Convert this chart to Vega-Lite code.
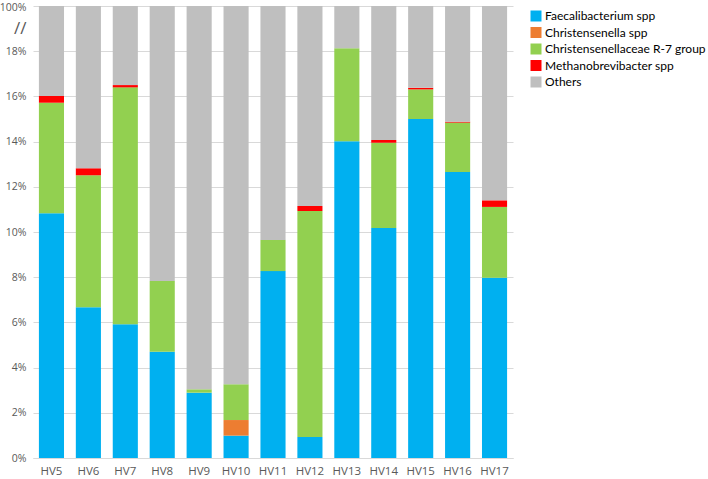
{
  "$schema": "https://vega.github.io/schema/vega-lite/v6.json",
  "width": 480,
  "height": 452,
  "autosize": {"type": "none"},
  "padding": {"left": 33, "top": 6, "right": 195, "bottom": 21},
  "config": {
    "font": "Open Sans",
    "view": {"stroke": null},
    "axis": {"labelFont": "Open Sans", "labelColor": "#595959", "labelFontSize": 11}
  },
  "data": {
    "values": [
      {"sample": "HV5", "taxon": "Faecalibacterium spp", "value": 0.1083},
      {"sample": "HV5", "taxon": "Christensenellaceae R-7 group", "value": 0.0489},
      {"sample": "HV5", "taxon": "Methanobrevibacter spp", "value": 0.0030},
      {"sample": "HV5", "taxon": "Others", "value": 0.8398},
      {"sample": "HV6", "taxon": "Faecalibacterium spp", "value": 0.0667},
      {"sample": "HV6", "taxon": "Christensenellaceae R-7 group", "value": 0.0584},
      {"sample": "HV6", "taxon": "Methanobrevibacter spp", "value": 0.0031},
      {"sample": "HV6", "taxon": "Others", "value": 0.8718},
      {"sample": "HV7", "taxon": "Faecalibacterium spp", "value": 0.0592},
      {"sample": "HV7", "taxon": "Christensenellaceae R-7 group", "value": 0.1048},
      {"sample": "HV7", "taxon": "Methanobrevibacter spp", "value": 0.0010},
      {"sample": "HV7", "taxon": "Others", "value": 0.8350},
      {"sample": "HV8", "taxon": "Faecalibacterium spp", "value": 0.0470},
      {"sample": "HV8", "taxon": "Christensenellaceae R-7 group", "value": 0.0313},
      {"sample": "HV8", "taxon": "Others", "value": 0.9217},
      {"sample": "HV9", "taxon": "Faecalibacterium spp", "value": 0.0289},
      {"sample": "HV9", "taxon": "Christensenellaceae R-7 group", "value": 0.0015},
      {"sample": "HV9", "taxon": "Others", "value": 0.9696},
      {"sample": "HV10", "taxon": "Faecalibacterium spp", "value": 0.0099},
      {"sample": "HV10", "taxon": "Christensenella spp", "value": 0.0069},
      {"sample": "HV10", "taxon": "Christensenellaceae R-7 group", "value": 0.0158},
      {"sample": "HV10", "taxon": "Others", "value": 0.9674},
      {"sample": "HV11", "taxon": "Faecalibacterium spp", "value": 0.0827},
      {"sample": "HV11", "taxon": "Christensenellaceae R-7 group", "value": 0.0138},
      {"sample": "HV11", "taxon": "Others", "value": 0.9035},
      {"sample": "HV12", "taxon": "Faecalibacterium spp", "value": 0.0093},
      {"sample": "HV12", "taxon": "Christensenellaceae R-7 group", "value": 0.1000},
      {"sample": "HV12", "taxon": "Methanobrevibacter spp", "value": 0.0022},
      {"sample": "HV12", "taxon": "Others", "value": 0.8885},
      {"sample": "HV13", "taxon": "Faecalibacterium spp", "value": 0.1401},
      {"sample": "HV13", "taxon": "Christensenellaceae R-7 group", "value": 0.0412},
      {"sample": "HV13", "taxon": "Others", "value": 0.8187},
      {"sample": "HV14", "taxon": "Faecalibacterium spp", "value": 0.1018},
      {"sample": "HV14", "taxon": "Christensenellaceae R-7 group", "value": 0.0377},
      {"sample": "HV14", "taxon": "Methanobrevibacter spp", "value": 0.0012},
      {"sample": "HV14", "taxon": "Others", "value": 0.8593},
      {"sample": "HV15", "taxon": "Faecalibacterium spp", "value": 0.1500},
      {"sample": "HV15", "taxon": "Christensenellaceae R-7 group", "value": 0.0131},
      {"sample": "HV15", "taxon": "Methanobrevibacter spp", "value": 0.0007},
      {"sample": "HV15", "taxon": "Others", "value": 0.8362},
      {"sample": "HV16", "taxon": "Faecalibacterium spp", "value": 0.1265},
      {"sample": "HV16", "taxon": "Christensenellaceae R-7 group", "value": 0.0219},
      {"sample": "HV16", "taxon": "Methanobrevibacter spp", "value": 0.0004},
      {"sample": "HV16", "taxon": "Others", "value": 0.8512},
      {"sample": "HV17", "taxon": "Faecalibacterium spp", "value": 0.0798},
      {"sample": "HV17", "taxon": "Christensenellaceae R-7 group", "value": 0.0313},
      {"sample": "HV17", "taxon": "Methanobrevibacter spp", "value": 0.0029},
      {"sample": "HV17", "taxon": "Others", "value": 0.8860}
    ]
  },
  "transform": [
    {"calculate": "indexof(['Faecalibacterium spp', 'Christensenella spp', 'Christensenellaceae R-7 group', 'Methanobrevibacter spp', 'Others'], datum.taxon)", "as": "stackRank"}
  ],
  "mark": {"type": "bar"},
  "encoding": {
    "x": {
      "field": "sample",
      "type": "nominal",
      "sort": null,
      "title": null,
      "scale": {"paddingInner": 0.32, "paddingOuter": 0.16},
      "axis": {"labelAngle": 0, "ticks": false, "domainColor": "#D9D9D9", "labelPadding": 7, "labelFontSize": 11.5}
    },
    "y": {
      "field": "value",
      "type": "quantitative",
      "stack": "zero",
      "title": null,
      "scale": {"domain": [0, 0.2, 1], "range": [452, 0, 0], "nice": false, "zero": false},
      "axis": {
        "values": [0, 0.02, 0.04, 0.06, 0.08, 0.1, 0.12, 0.14, 0.16, 0.18, 0.19, 1],
        "labelExpr": "datum.value > 0.185 && datum.value < 0.195 ? '//' : format(datum.value, '.0%')",
        "ticks": false,
        "domain": false,
        "labelPadding": 7,
        "labelOffset": {"condition": {"test": "datum.value > 0.5", "value": 1}, "value": 0},
        "labelFontSize": {"condition": {"test": "datum.value > 0.185 && datum.value < 0.195", "value": 17}, "value": 10.5},
        "gridColor": "#D9D9D9",
        "gridOpacity": {"condition": {"test": "datum.value > 0.185 && datum.value < 0.195", "value": 0}, "value": 1}
      }
    },
    "order": {"field": "stackRank", "type": "quantitative", "sort": "ascending"},
    "color": {
      "field": "taxon",
      "type": "nominal",
      "sort": ["Faecalibacterium spp", "Christensenella spp", "Christensenellaceae R-7 group", "Methanobrevibacter spp", "Others"],
      "scale": {
        "domain": ["Faecalibacterium spp", "Christensenella spp", "Christensenellaceae R-7 group", "Methanobrevibacter spp", "Others"],
        "range": ["#00B0F0", "#ED7D31", "#92D050", "#FF0000", "#BFBFBF"]
      },
      "legend": {
        "title": null,
        "orient": "none",
        "legendX": 497,
        "legendY": 4,
        "symbolType": "square",
        "symbolSize": 121,
        "symbolStrokeWidth": 0,
        "labelFont": "Lato",
        "labelFontSize": 12,
        "labelColor": "#000000",
        "labelOffset": 3,
        "rowPadding": 4.5,
        "labelLimit": 200
      }
    }
  }
}
